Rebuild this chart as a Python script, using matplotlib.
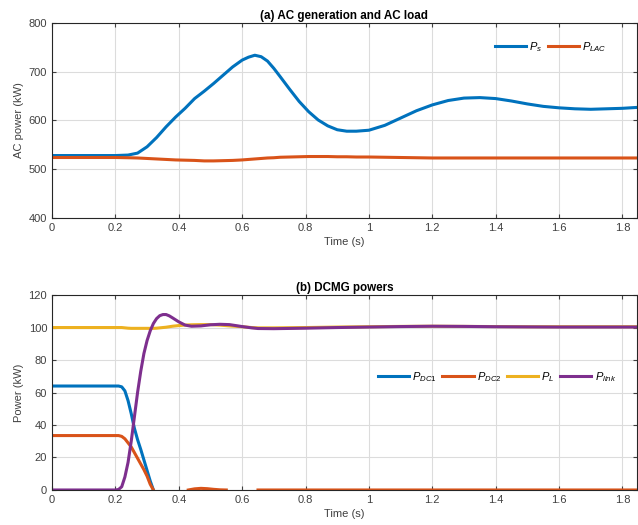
import numpy as np
import matplotlib
matplotlib.use("Agg")
import matplotlib.pyplot as plt

plt.rcParams["font.family"] = ["Liberation Sans", "DejaVu Sans"]
plt.rcParams["mathtext.fontset"] = "custom"
plt.rcParams["mathtext.it"] = "Liberation Sans:italic"
plt.rcParams["mathtext.rm"] = "Liberation Sans"

C_BLUE, C_ORANGE, C_YELLOW, C_PURPLE = "#0072BD", "#D95319", "#EDB120", "#7E2F8E"

# (a) AC generation and AC load
t_ac = [0, 0.1, 0.2, 0.24, 0.27, 0.3, 0.33, 0.36, 0.39, 0.42, 0.45, 0.48, 0.51, 0.54,
        0.57, 0.6, 0.62, 0.64, 0.66, 0.68, 0.7, 0.72, 0.75, 0.78, 0.81, 0.84, 0.87,
        0.9, 0.93, 0.96, 1.0, 1.05, 1.1, 1.15, 1.2, 1.25, 1.3, 1.35, 1.4, 1.45, 1.5,
        1.55, 1.6, 1.65, 1.7, 1.75, 1.8, 1.85]
p_s = [528, 528, 528, 529, 533, 546, 565, 587, 607, 625, 645, 660, 676, 693,
       710, 724, 730, 734, 731, 722, 707, 690, 664, 639, 618, 601, 589,
       581, 578, 578, 580, 590, 605, 620, 632, 641, 646, 647, 645, 640, 634,
       629, 626, 624, 623, 624, 625, 627]
p_lac = [524, 524, 524, 523.5, 523, 522, 521, 520, 519, 518.5, 518, 517, 517, 517.5,
         518, 519, 520, 521, 522, 523, 523.5, 524.5, 525, 525.5, 526, 526, 526,
         525.5, 525.5, 525, 525, 524.5, 524, 523.5, 523, 523, 523, 523, 523, 523, 523,
         523, 523, 523, 523, 523, 523, 523]

# (b) DCMG powers
t_dc = [0, 0.1, 0.2, 0.21, 0.22, 0.23, 0.24, 0.25, 0.26, 0.27, 0.28, 0.29, 0.3, 0.31,
        0.32, 0.33, 0.34, 0.35, 0.36, 0.37, 0.38, 0.4, 0.42, 0.44, 0.47, 0.5, 0.53,
        0.56, 0.6, 0.63, 0.65, 0.7, 0.8, 0.9, 1.0, 1.1, 1.2, 1.3, 1.4, 1.5, 1.6, 1.7,
        1.85]
nan = np.nan
p_dc1 = [64, 64, 64, 64, 63.5, 61, 55, 47, 38, 31, 25, 18.5, 12, 5.5,
         0, nan, nan, nan, nan, nan, nan, nan, nan, nan, nan, nan, nan,
         nan, nan, nan, nan, nan, nan, nan, nan, nan, nan, nan, nan, nan, nan, nan,
         nan]
p_dc2 = [33.5, 33.5, 33.5, 33.5, 33, 31.5, 29, 26.5, 23, 19.5, 16, 12.5, 8.5, 3.5,
         0, nan, nan, nan, nan, nan, nan, nan, nan, nan, nan, nan, nan,
         nan, nan, nan, 0, 0, 0, 0, 0, 0, 0, 0, 0, 0, 0, 0,
         0]
p_l = [100, 100, 100, 100, 100, 99.8, 99.6, 99.5, 99.5, 99.5, 99.5, 99.5, 99.5, 99.5,
       99.5, 99.6, 99.8, 100, 100.2, 100.5, 100.8, 101.2, 101.5, 101.7, 101.8, 101.8, 101.5,
       101, 100.5, 100, 99.8, 99.8, 100, 100.3, 100.5, 100.7, 100.8, 100.7, 100.6, 100.5, 100.5, 100.5,
       100.5]
p_link = [0, 0, 0, 0.3, 2, 8, 17, 30, 45, 60, 73, 84, 92, 98,
          102.5, 105.5, 107.3, 108, 108, 107.2, 106, 103.5, 101.5, 100.8, 101, 101.7, 102,
          101.8, 100.6, 99.8, 99.4, 99.3, 99.6, 100, 100.3, 100.6, 100.8, 100.7, 100.5, 100.4, 100.3, 100.3,
          100.3]

# small DC2 blip around 0.45-0.55
t_blip = [0.43, 0.45, 0.47, 0.49, 0.51, 0.53, 0.55]
p_blip = [0, 0.7, 1.0, 0.8, 0.4, 0.1, 0]

fig = plt.figure(figsize=(6.38, 5.25), dpi=100)
ax1 = fig.add_axes([0.0815, 0.585, 0.9165, 0.371])
ax2 = fig.add_axes([0.0815, 0.0667, 0.9165, 0.3713])

for ax in (ax1, ax2):
    ax.grid(True, color="#dcdcdc", lw=0.8)
    ax.set_axisbelow(True)
    ax.tick_params(direction="in", top=True, right=True, labelsize=8,
                   colors="#404040", length=3)
    for s in ax.spines.values():
        s.set_color("#262626")
        s.set_linewidth(0.8)
    ax.set_xlim(0, 1.845)
    ax.set_xticks(np.arange(0, 1.81, 0.2))
    ax.set_xticklabels(["0", "0.2", "0.4", "0.6", "0.8", "1", "1.2", "1.4", "1.6", "1.8"])
    ax.set_xlabel("Time (s)", fontsize=8, color="#404040", labelpad=3)

lw = 2.2
ax1.plot(t_ac, p_s, color=C_BLUE, lw=lw, label="$P_s$")
ax1.plot(t_ac, p_lac, color=C_ORANGE, lw=lw, label="$P_{LAC}$")
ax1.set_ylim(400, 800)
ax1.set_yticks([400, 500, 600, 700, 800])
ax1.set_ylabel("AC power (kW)", fontsize=8, color="#404040", labelpad=3)
ax1.set_title("(a) AC generation and AC load", fontsize=8.4, fontweight="bold", pad=3)
ax1.legend(loc="center left", bbox_to_anchor=(0.74, 0.877), ncol=2, frameon=False,
           fontsize=8, handlelength=2.8, columnspacing=0.5, handletextpad=0.3)

ax2.plot(t_dc, p_dc1, color=C_BLUE, lw=lw, label="$P_{DC1}$")
ax2.plot(t_dc, p_dc2, color=C_ORANGE, lw=lw, label="$P_{DC2}$")
ax2.plot(t_blip, p_blip, color=C_ORANGE, lw=lw)
ax2.plot(t_dc, p_l, color=C_YELLOW, lw=lw, label="$P_L$")
ax2.plot(t_dc, p_link, color=C_PURPLE, lw=lw, label="$P_{link}$")
ax2.set_ylim(0, 120)
ax2.set_yticks(np.arange(0, 121, 20))
ax2.set_ylabel("Power (kW)", fontsize=8, color="#404040", labelpad=3)
ax2.set_title("(b) DCMG powers", fontsize=8.4, fontweight="bold", pad=3)
ax2.legend(loc="center left", bbox_to_anchor=(0.54, 0.58), ncol=4, frameon=False,
           fontsize=8, handlelength=2.8, columnspacing=0.5, handletextpad=0.3)

fig.savefig("out.png", dpi=100)
